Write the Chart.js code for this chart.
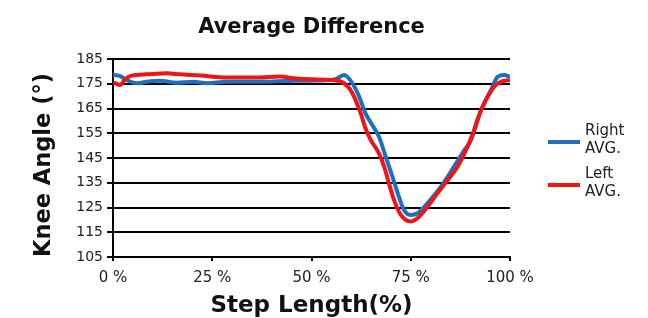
<!DOCTYPE html>
<html>
<head>
<meta charset="utf-8">
<script src="https://cdn.jsdelivr.net/npm/chart.js@4"></script>
<style>
  html, body { margin: 0; padding: 0; background: #fff; }
  #wrap { width: 648px; height: 318px; }
</style>
</head>
<body>
<div id="wrap"><canvas id="kneeChart" width="648" height="318"></canvas></div>
<script>
// ── Data ──────────────────────────────────────────────────────────────────
const seriesLabels = ['Right AVG.', 'Left AVG.'];
const seriesColors = ['#1f6fc0', '#f01414'];

const rightPct = [0, 1.8, 3.4, 6, 8.5, 11.9, 16, 20.3, 23.6, 28.7, 37, 45.5, 52, 56, 58.2, 60.3, 62, 63.6, 65.3, 67,
  68.7, 70.4, 72, 73.3, 75, 76.7, 79.2, 82.6, 85.9, 88.5, 90.2, 91.8, 93.5, 95.2, 96.9, 98.6, 100];
const rightAvg = [178.5, 178.1, 176.5, 175.2, 175.8, 176.2, 175.4, 175.8, 175.2, 175.8, 175.8, 176.2, 176.3, 176.8, 178.5, 175.2, 169.8, 163, 158.3, 153.6,
  145.5, 137.4, 129.4, 124, 122, 122.7, 126.7, 133.4, 141.5, 148.2, 152.3, 160.4, 167.1, 172.5, 177.8, 178.5, 177.8];

const leftPct = [0, 0.5, 1.8, 3, 4.7, 8.5, 13.6, 16.9, 22, 28.7, 37, 42, 45.5, 49.7, 55.6, 58.2, 59.8, 61.1, 62.4, 63.6,
  64.9, 67, 68.3, 69.5, 70.8, 72.5, 75, 77.1, 79.2, 81.7, 84.3, 86.8, 89.3, 91, 92.7, 94.4, 96, 97.7, 100];
const leftAvg = [175.5, 175.2, 174.5, 176.8, 178.3, 178.8, 179.2, 178.8, 178.3, 177.5, 177.5, 177.9, 177.2, 176.8, 176.5, 175.2, 172.5, 168.4, 163, 157,
  152.3, 146.9, 141.5, 134.8, 128, 122, 119.3, 121.3, 125.3, 130.7, 136.1, 141.5, 149.6, 156.3, 164.4, 169.8, 173.8, 175.8, 176.5];

const yMin = 105, yMax = 185, yStep = 10;
const xTicksStep = 25;

const FONT = "'DejaVu Sans', Verdana, sans-serif";

// ── Legend on the right, two-line labels ──────────────────────────────────
const sideLegend = {
  id: 'sideLegend',
  afterDraw(chart) {
    const { ctx, chartArea } = chart;
    ctx.save();
    ctx.font = `15px ${FONT}`;
    ctx.textBaseline = 'middle';
    ctx.textAlign = 'left';
    seriesLabels.forEach((label, i) => {
      const y = chartArea.top + 83 + i * 43;
      const x0 = chartArea.right + 38;
      ctx.strokeStyle = seriesColors[i];
      ctx.lineWidth = 4;
      ctx.beginPath();
      ctx.moveTo(x0, y);
      ctx.lineTo(x0 + 32, y);
      ctx.stroke();
      ctx.fillStyle = '#222';
      label.split(' ').forEach((part, j) => {
        ctx.fillText(part, x0 + 37, y - 10.5 + j * 17.5);
      });
    });
    ctx.restore();
  }
};

const toPoints = (xs, ys) => xs.map((x, i) => ({ x, y: ys[i] }));

new Chart(document.getElementById('kneeChart'), {
  type: 'line',
  data: {
    datasets: [
      {
        label: seriesLabels[0],
        data: toPoints(rightPct, rightAvg),
        borderColor: seriesColors[0],
        borderWidth: 4,
        pointRadius: 0,
        cubicInterpolationMode: 'monotone',
        order: 1,
      },
      {
        label: seriesLabels[1],
        data: toPoints(leftPct, leftAvg),
        borderColor: seriesColors[1],
        borderWidth: 4,
        pointRadius: 0,
        cubicInterpolationMode: 'monotone',
        order: 0,
      }
    ]
  },
  options: {
    responsive: false,
    animation: false,
    devicePixelRatio: 1,
    layout: { padding: { left: 0, right: 138, top: 0, bottom: 0 } },
    plugins: {
      legend: { display: false },
      tooltip: { enabled: false },
      title: {
        display: true,
        fullSize: false,
        text: 'Average Difference',
        color: '#111',
        font: { family: FONT, size: 21, weight: 'bold' },
        padding: { top: 15.4, bottom: 18.4 },
      },
    },
    scales: {
      x: {
        type: 'linear',
        min: 0,
        max: 100,
        ticks: {
          stepSize: xTicksStep,
          color: '#222',
          font: { family: FONT, size: 15 },
          padding: 8,
          maxRotation: 0,
          callback: v => v + ' %',
        },
        grid: { drawOnChartArea: false, color: '#000', lineWidth: 2, tickLength: 4 },
        border: { color: '#000', width: 2 },
        title: {
          display: true,
          text: 'Step Length(%)',
          color: '#111',
          font: { family: FONT, size: 23, weight: 'bold' },
          padding: { top: 0, bottom: -2 },
        },
        afterFit: s => { s.height = 61; },
      },
      y: {
        min: yMin,
        max: yMax,
        ticks: {
          stepSize: yStep,
          color: '#222',
          font: { family: FONT, size: 14 },
          padding: 4,
        },
        grid: { color: '#000', lineWidth: 2, tickLength: 6 },
        border: { color: '#000', width: 2 },
        title: {
          display: true,
          align: 'start',
          text: 'Knee Angle (°)',
          color: '#111',
          font: { family: FONT, size: 22.5, weight: 'bold' },
          padding: { top: 31, bottom: 0 },
        },
        afterFit: s => { s.width = 113; },
      },
    },
  },
  plugins: [sideLegend],
});
</script>
</body>
</html>
